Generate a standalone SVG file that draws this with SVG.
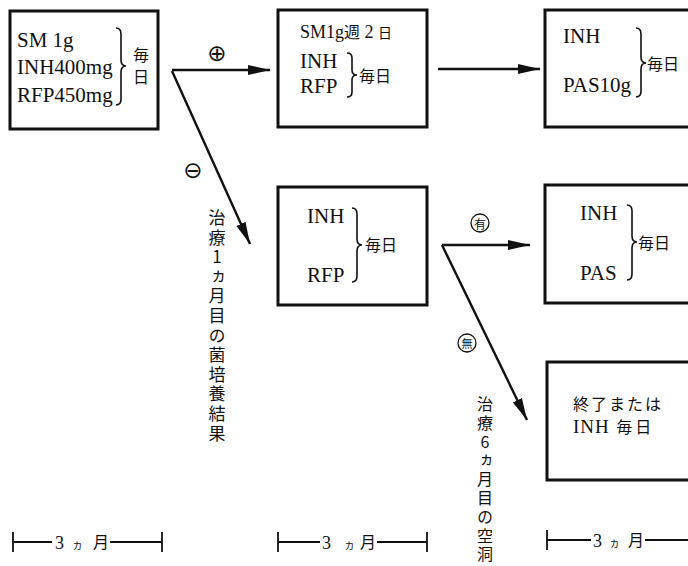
<svg xmlns="http://www.w3.org/2000/svg" width="688" height="566" viewBox="0 0 688 566">
<style>
.box{fill:#fff;stroke:#111;stroke-width:3}
.lat{font-family:"Liberation Serif","Noto Sans CJK JP",serif;font-size:21px;fill:#111}
.jp{font-family:"Noto Sans CJK JP","Liberation Serif",serif;font-size:16px;fill:#111}
.br{fill:none;stroke:#111;stroke-width:1.6}
.ln{fill:none;stroke:#111;stroke-width:2.4}
.tl{fill:none;stroke:#111;stroke-width:1.8}
.vt{font-family:"Noto Sans CJK JP","Liberation Serif",serif;font-size:17px;fill:#111;writing-mode:vertical-rl;text-orientation:upright}
.sym{font-family:"DejaVu Sans",sans-serif;font-size:23px;fill:#111}
.circ{fill:none;stroke:#111;stroke-width:1.3}
</style>
<defs>
<marker id="ah" markerUnits="userSpaceOnUse" markerWidth="24" markerHeight="12" refX="22" refY="5" orient="auto">
<path d="M0,0 L22,5 L0,10 z" fill="#111"/>
</marker>
</defs>

<g id="node1">
<rect class="box" x="10" y="11" width="148" height="118"/>
<text class="lat" x="17" y="47">SM 1g</text>
<text class="lat" x="17" y="74">INH400mg</text>
<text class="lat" x="17" y="102">RFP450mg</text>
<path class="br" d="M116,28 Q121,28 121,34 L121,60 Q121,66 126,66 Q121,66 121,72 L121,99 Q121,105 116,105"/>
<text class="jp" x="141" y="54" text-anchor="middle" dominant-baseline="central">毎<tspan x="141" y="76">日</tspan></text>
</g>

<g id="node2">
<rect class="box" x="278" y="10" width="149" height="117"/>
<text class="lat" x="300" y="38" style="font-size:18px">SM1g<tspan class="jp" style="font-size:16px">週</tspan> 2 <tspan style="font-size:14px">日</tspan></text>
<text class="lat" x="300" y="68">INH</text>
<text class="lat" x="300" y="93">RFP</text>
<path class="br" d="M347,53 Q352,53 352,58 L352,70 Q352,75 357,75 Q352,75 352,80 L352,92 Q352,97 347,97"/>
<text class="jp" x="359" y="82">毎日</text>
</g>

<g id="node3">
<rect class="box" x="545" y="10" width="200" height="117"/>
<text class="lat" x="563" y="43">INH</text>
<text class="lat" x="563" y="92">PAS10g</text>
<path class="br" d="M636,28 Q641,28 641,34 L641,57 Q641,63 646,63 Q641,63 641,69 L641,91 Q641,97 636,97"/>
<text class="jp" x="647" y="70">毎日</text>
</g>

<g id="node4">
<rect class="box" x="278" y="187" width="149" height="118"/>
<text class="lat" x="307" y="223">INH</text>
<text class="lat" x="307" y="282">RFP</text>
<path class="br" d="M352,208 Q357,208 357,214 L357,239 Q357,245 362,245 Q357,245 357,251 L357,276 Q357,282 352,282"/>
<text class="jp" x="365" y="251">毎日</text>
</g>

<g id="node5">
<rect class="box" x="545" y="185" width="200" height="118"/>
<text class="lat" x="580" y="220">INH</text>
<text class="lat" x="580" y="280">PAS</text>
<path class="br" d="M627,205 Q632,205 632,211 L632,236 Q632,242 637,242 Q632,242 632,248 L632,274 Q632,280 627,280"/>
<text class="jp" x="638" y="249">毎日</text>
</g>

<g id="node6">
<rect class="box" x="547" y="362" width="200" height="118"/>
<text class="jp" x="573" y="410" style="font-size:16px;letter-spacing:2px">終了または</text>
<text class="lat" x="573" y="433" style="font-size:19px;letter-spacing:1px">INH<tspan class="jp" style="font-size:16px;letter-spacing:3px"> 毎日</tspan></text>
</g>

<g id="connectors">
<line class="ln" x1="172" y1="70" x2="270" y2="70" marker-end="url(#ah)"/>
<line class="ln" x1="172" y1="71" x2="250" y2="244" marker-end="url(#ah)"/>
<line class="ln" x1="438" y1="69" x2="540" y2="69" marker-end="url(#ah)"/>
<line class="ln" x1="442" y1="245" x2="530" y2="245" marker-end="url(#ah)"/>
<line class="ln" x1="442" y1="245" x2="527" y2="420" marker-end="url(#ah)"/>
</g>

<g id="labels">
<text class="sym" x="217" y="53" text-anchor="middle" dominant-baseline="central">⊕</text>
<text class="sym" x="193" y="170" text-anchor="middle" dominant-baseline="central">⊖</text>
<circle class="circ" cx="480" cy="223" r="9"/>
<text class="jp" x="480" y="223" style="font-size:12px" text-anchor="middle" dominant-baseline="central">有</text>
<circle class="circ" cx="467" cy="343" r="9"/>
<text class="jp" x="467" y="343" style="font-size:11px" text-anchor="middle" dominant-baseline="central">無</text>
<text class="vt" x="217" y="209" style="letter-spacing:2.6px">治療1ヵ月目の菌培養結果</text>
<text class="vt" x="485" y="396" style="font-size:16px;letter-spacing:2.8px">治療6ヵ月目の空洞</text>
</g>

<g id="timeline1">
<path class="tl" d="M13,532 V552 M13,542 H52 M110,542 H162 M162,532 V552"/>
<text class="lat" x="55" y="549" style="font-size:18px">3</text>
<text class="jp" x="72" y="549" style="font-size:11px">ヵ</text>
<text class="jp" x="93" y="548" style="font-size:16px">月</text>
</g>
<g id="timeline2">
<path class="tl" d="M278,532 V552 M278,542 H320 M377,542 H427 M427,532 V552"/>
<text class="lat" x="322" y="549" style="font-size:18px">3</text>
<text class="jp" x="344" y="549" style="font-size:11px">ヵ</text>
<text class="jp" x="360" y="548" style="font-size:16px">月</text>
</g>
<g id="timeline3">
<path class="tl" d="M547,530 V550 M547,540 H591 M645,540 H690"/>
<text class="lat" x="593" y="547" style="font-size:18px">3</text>
<text class="jp" x="609" y="547" style="font-size:11px">ヵ</text>
<text class="jp" x="628" y="546" style="font-size:16px">月</text>
</g>
</svg>
